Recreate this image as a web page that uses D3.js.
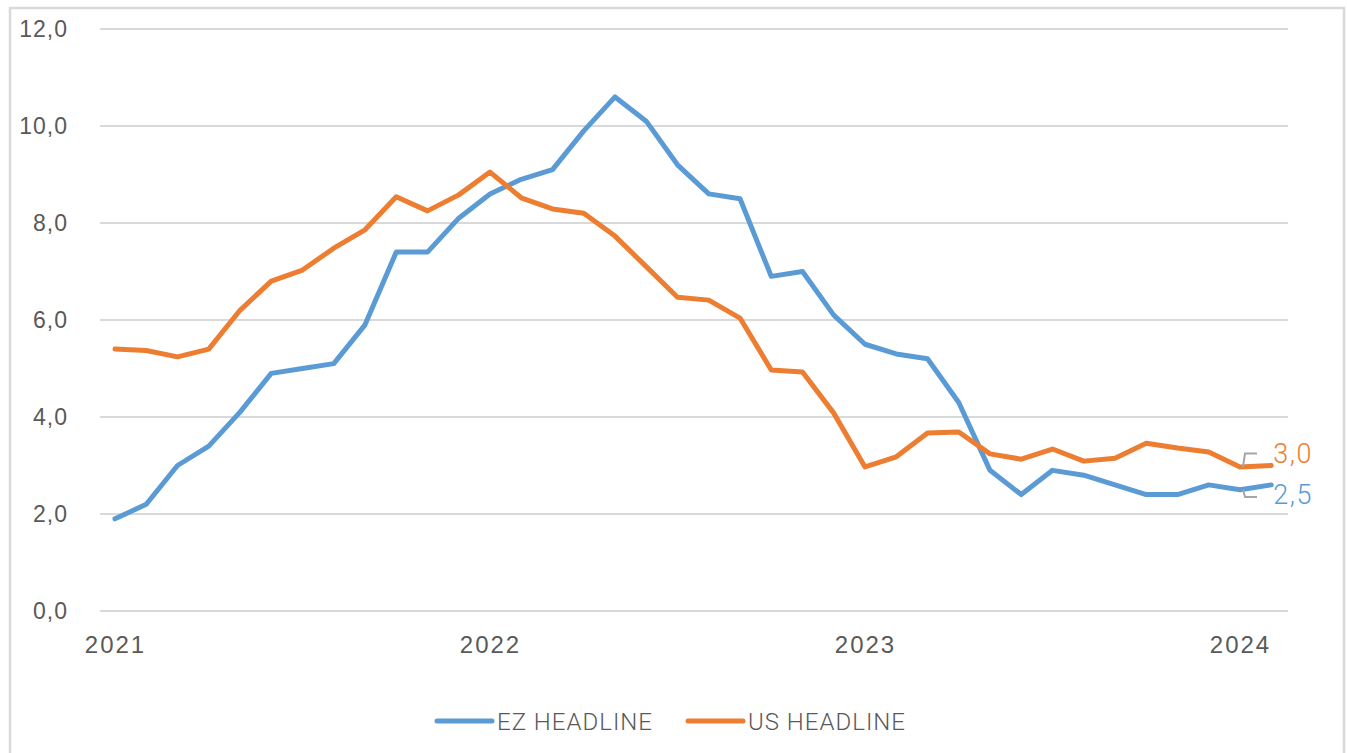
<!DOCTYPE html>
<html>
<head>
<meta charset="utf-8">
<script src="https://cdn.jsdelivr.net/npm/d3@7"></script>
<style>
  body { margin: 0; background: #fff; }
  svg { font-family: "Roboto", "Liberation Sans", sans-serif; }
</style>
</head>
<body>
<script>
// chart size
const width = 1347;
const height = 753;

// monthly data, Jan 2021 .. Feb 2024
const months = ["2021-01","2021-02","2021-03","2021-04","2021-05","2021-06","2021-07","2021-08","2021-09","2021-10","2021-11","2021-12",
  "2022-01","2022-02","2022-03","2022-04","2022-05","2022-06","2022-07","2022-08","2022-09","2022-10","2022-11","2022-12",
  "2023-01","2023-02","2023-03","2023-04","2023-05","2023-06","2023-07","2023-08","2023-09","2023-10","2023-11","2023-12",
  "2024-01","2024-02"];

const ezHeadline = [1.9, 2.2, 3.0, 3.4, 4.1, 4.9, 5.0, 5.1, 5.9, 7.4, 7.4, 8.1,
  8.6, 8.9, 9.1, 9.9, 10.6, 10.1, 9.2, 8.6, 8.5, 6.9, 7.0, 6.1,
  5.5, 5.3, 5.2, 4.3, 2.9, 2.4, 2.9, 2.8, 2.6, 2.4, 2.4, 2.6,
  2.5, 2.6];

const usHeadline = [5.4, 5.37, 5.24, 5.4, 6.2, 6.8, 7.03, 7.48, 7.86, 8.54, 8.25, 8.58,
  9.05, 8.52, 8.29, 8.2, 7.73, 7.1, 6.47, 6.41, 6.04, 4.97, 4.93, 4.08,
  2.97, 3.18, 3.67, 3.69, 3.24, 3.13, 3.34, 3.09, 3.15, 3.46, 3.36, 3.28,
  2.97, 3.0];

const yTicks = [0, 2, 4, 6, 8, 10, 12];
const yearTicks = ["2021-01", "2022-01", "2023-01", "2024-01"];

const seriesNames = ["EZ HEADLINE", "US HEADLINE"];
const seriesColors = ["#5B9BD5", "#ED7D31"];
const endLabels = ["2,5", "3,0"];

const fmt = d3.format(".1f");
const comma = v => fmt(v).replace(".", ",");

var svg = d3.select("body").append("svg")
  .attr("width", width)
  .attr("height", height);

// outer frame
svg.append("rect")
  .attr("x", 10).attr("y", 8)
  .attr("width", 1334).attr("height", 760)
  .attr("fill", "#fff")
  .attr("stroke", "#d9d9d9")
  .attr("stroke-width", 2.5);

// scales
var x = d3.scaleLinear()
  .domain([0, 36])
  .range([115, 1240]);

var y = d3.scaleLinear()
  .domain([0, 12])
  .range([611, 29]);

// gridlines
svg.append("g")
  .selectAll("line")
  .data(yTicks)
  .enter().append("line")
  .attr("x1", 100).attr("x2", 1288)
  .attr("y1", d => y(d)).attr("y2", d => y(d))
  .attr("stroke", "#d9d9d9")
  .attr("stroke-width", 2);

// y axis labels
var yAxis = svg.append("g")
  .attr("transform", "translate(68,0)")
  .call(d3.axisLeft(y).tickValues(yTicks).tickFormat(comma).tickSize(0).tickPadding(0));
yAxis.select(".domain").remove();
yAxis.selectAll("text")
  .attr("fill", "#595959")
  .attr("font-size", 23)
  .attr("font-weight", 300)
  .attr("letter-spacing", 1);

// x axis labels
var xAxis = svg.append("g")
  .attr("transform", "translate(0,611)")
  .call(d3.axisBottom(x)
    .tickValues(yearTicks.map(m => months.indexOf(m)))
    .tickFormat(i => months[i].slice(0, 4))
    .tickSize(0).tickPadding(25));
xAxis.select(".domain").remove();
xAxis.selectAll("text")
  .attr("fill", "#595959")
  .attr("font-size", 24)
  .attr("font-weight", 300)
  .attr("letter-spacing", 2);

// lines
var line = d3.line()
  .x((d, i) => x(i))
  .y(d => y(d));

[ezHeadline, usHeadline].forEach(function (data, k) {
  svg.append("path")
    .datum(data)
    .attr("d", line)
    .attr("fill", "none")
    .attr("stroke", seriesColors[k])
    .attr("stroke-width", 5)
    .attr("stroke-linejoin", "round")
    .attr("stroke-linecap", "round");
});

// end-of-line data labels with small leader brackets
var last = months.length - 1;
[ezHeadline, usHeadline].forEach(function (data, k) {
  var lx = x(last);
  var ly = y(data[last]);
  var up = k === 1;
  var labelY = up ? ly - 3 : ly + 19;
  // leader bracket
  var bx = x(last - 1) + 3;
  var by = y(data[last - 1]);
  var top = up ? ly - 12 : ly + 2;
  var bot = up ? ly + 2 : ly + 12;
  svg.append("path")
    .attr("d", up
      ? `M${bx + 14},${top} L${bx + 2},${top} L${bx},${by}`
      : `M${bx},${by} L${bx + 2},${bot} L${bx + 14},${bot}`)
    .attr("fill", "none")
    .attr("stroke", "#a6a6a6")
    .attr("stroke-width", 2);
  svg.append("text")
    .attr("x", lx + 2)
    .attr("y", labelY)
    .attr("fill", seriesColors[k])
    .attr("font-size", 27)
    .attr("font-weight", 300)
    .attr("letter-spacing", 1.5)
    .text(endLabels[k]);
});

// legend
var legend = svg.append("g");
var legendX = [437, 688];
seriesNames.forEach(function (name, k) {
  legend.append("line")
    .attr("x1", legendX[k]).attr("x2", legendX[k] + 55)
    .attr("y1", 721).attr("y2", 721)
    .attr("stroke", seriesColors[k])
    .attr("stroke-width", 5)
    .attr("stroke-linecap", "round");
  legend.append("text")
    .attr("x", legendX[k] + 60)
    .attr("y", 730)
    .attr("fill", "#595959")
    .attr("font-size", 24)
    .attr("font-weight", 300)
    .attr("letter-spacing", 1)
    .text(name);
});
</script>
</body>
</html>
